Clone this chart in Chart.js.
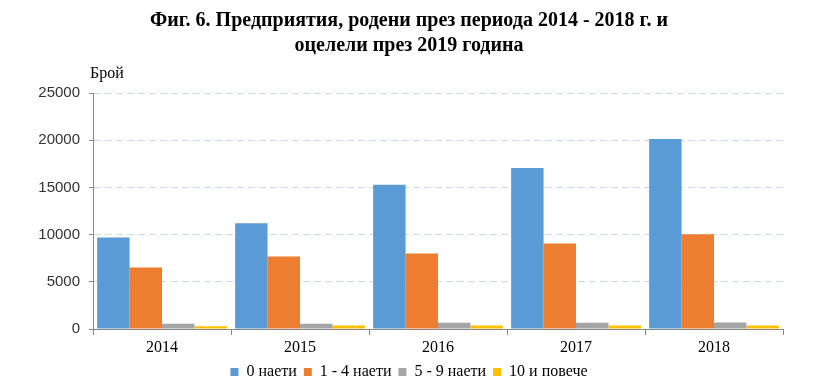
<!DOCTYPE html>
<html>
<head>
<meta charset="utf-8">
<script src="https://cdn.jsdelivr.net/npm/chart.js@4"></script>
<style>
  html, body { margin: 0; padding: 0; background: #fff; }
  #chart { display: block; }
</style>
</head>
<body>
<canvas id="chart" width="826" height="384"></canvas>
<script>
// Данни
const years = ['2014', '2015', '2016', '2017', '2018'];
const zero = [9700, 11200, 15280, 17050, 20140];
const oneToFour = [6520, 7690, 8010, 9070, 10030];
const fiveToNine = [560, 560, 670, 670, 680];
const tenPlus = [280, 380, 380, 380, 380];
const seriesNames = ['0 наети', '1 - 4 наети', '5 - 9 наети', '10 и повече'];
const yTicks = [0, 5000, 10000, 15000, 20000, 25000];

const colors = ['#5B9BD5', '#ED7D31', '#A5A5A5', '#FFC000'];
const serif = '"Liberation Serif", "Times New Roman", serif';
const sans = '"Liberation Sans", Arial, sans-serif';

// надпис "Брой" над оста
const yAxisLabel = {
  id: 'yAxisLabel',
  afterDraw(chart) {
    const c = chart.ctx;
    const a = chart.chartArea;
    c.save();
    c.font = '16px ' + serif;
    c.fillStyle = '#000';
    c.textAlign = 'left';
    c.textBaseline = 'alphabetic';
    c.fillText('Брой', a.left - 3, a.top - 15);
    c.restore();
  }
};

const allSeries = [zero, oneToFour, fiveToNine, tenPlus];
const data = {
  labels: years,
  datasets: allSeries.map((s, i) => ({
    label: seriesNames[i],
    data: s,
    backgroundColor: colors[i],
    borderWidth: 0,
    barPercentage: 1,
    categoryPercentage: 0.94
  }))
};

const ctx = document.getElementById('chart').getContext('2d');
new Chart(ctx, {
  type: 'bar',
  data: data,
  plugins: [yAxisLabel],
  options: {
    responsive: false,
    animation: false,
    layout: { padding: { top: 8, left: 16, right: 24, bottom: -6 } },
    plugins: {
      title: {
        display: true,
        text: ['Фиг. 6. Предприятия, родени през периода 2014 - 2018 г. и', 'оцелели през 2019 година'],
        font: { family: serif, size: 20, weight: 'bold', lineHeight: 1.25 },
        color: '#000',
        padding: { top: 0, bottom: 35 }
      },
      legend: {
        position: 'bottom',
        labels: {
          font: { family: serif, size: 16 },
          color: '#000',
          boxWidth: 8,
          boxHeight: 8,
          padding: 7
        }
      },
      tooltip: { enabled: false }
    },
    scales: {
      x: {
        afterFit: axis => { axis.height = 28; },
        grid: {
          offset: true,
          drawOnChartArea: false,
          drawTicks: true,
          tickLength: 6,
          color: '#868686'
        },
        border: { color: '#868686' },
        ticks: { font: { family: serif, size: 16 }, color: '#000', padding: 3 }
      },
      y: {
        min: 0,
        max: 25000,
        afterFit: axis => { axis.width = 77; },
        afterBuildTicks: axis => { axis.ticks = yTicks.map(v => ({ value: v })); },
        grid: {
          color: ctx => ctx.tick && ctx.tick.value === 0 ? 'rgba(0,0,0,0)' : '#CCDAE8',
          tickColor: '#868686',
          tickLength: 4,
          tickBorderDash: []
        },
        border: { color: '#868686', dash: [7, 4] },
        ticks: {
          font: { family: sans, size: 15 },
          color: '#333333',
          padding: 9,
          callback: v => String(v)
        }
      },
      // празна ос вдясно, само за отстъп
      yRight: {
        position: 'right',
        display: true,
        afterFit: axis => { axis.width = 19; },
        grid: { display: false, drawTicks: false },
        border: { display: false },
        ticks: { display: false }
      }
    }
  }
});
</script>
</body>
</html>
